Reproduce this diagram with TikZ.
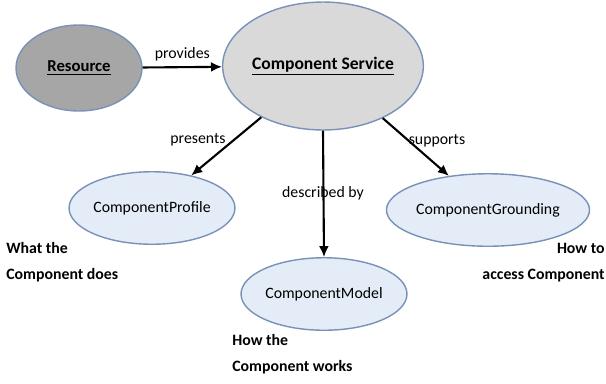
\documentclass[tikz,border=0pt]{standalone}
\usepackage{fontspec}
\setmainfont{Carlito}
\usepackage{tikz}
\usetikzlibrary{arrows.meta, positioning, shapes.geometric}

\definecolor{rimblue}{RGB}{120,146,184}
\definecolor{resgray}{RGB}{166,166,166}
\definecolor{svcgray}{RGB}{217,217,217}
\definecolor{partblue}{RGB}{228,236,247}

\begin{document}
\begin{tikzpicture}[
  x=0.02cm, y=-0.02cm,
  bubble/.style = {
    ellipse,
    draw=rimblue,
    thick,
    inner sep=0pt,
    align=center
  },
  resource/.style = {
    bubble,
    fill=resgray,
    minimum width=2.52cm,
    minimum height=1.72cm,
    font=\bfseries\fontsize{9.5}{11}\selectfont
  },
  service/.style = {
    bubble,
    fill=svcgray,
    minimum width=3.68cm,
    minimum height=2.56cm,
    font=\bfseries\fontsize{10}{12}\selectfont
  },
  part/.style = {
    bubble,
    fill=partblue,
    minimum width=3.2cm,
    minimum height=1.45cm,
    font=\fontsize{9}{11}\selectfont
  },
  note/.style = {
    inner sep=0pt,
    font=\bfseries\fontsize{9}{14.7}\selectfont
  },
  label/.style = {
    inner sep=1pt,
    font=\fontsize{9}{11}\selectfont
  },
  arrow/.style = {line width=1.2pt, -{Latex[width=2mm, length=2.2mm]}}
]
\useasboundingbox (0,0) rectangle (606,383);

% ======================================================
% TOP ROW
% ======================================================

\node[resource] (resource) at (79,68) {\underline{Resource}};
\node[service] (service) at (323,66) {\underline{Component Service}};

\draw[arrow]
  (resource) -- node[label, above=2pt] {provides} (service);

% ======================================================
% PARTS OF THE SERVICE
% ======================================================

\node[part] (profile) at (152,208) {ComponentProfile};
\node[part] (model) at (324,294) {ComponentModel};
\node[part] (grounding) at (488,210) {ComponentGrounding};

\draw[arrow] (service) -- (profile);
\draw[arrow] (service.south) -- (model.north);
\draw[arrow] (service) -- (grounding);

\node[label] (presents) at (198,140) {presents};
\node[label] (describedby) at (323,193) {described by};
\node[label] (supports) at (437,141) {supports};

% notes
\node[note, anchor=north west, align=left] (whatnote) at (6,242) {What the\\Component does};
\node[note, anchor=north west, align=left] (hownote) at (232,334) {How the\\Component works};
\node[note, anchor=north east, align=right] (accessnote) at (605,243) {How to\\access Component};

\end{tikzpicture}
\end{document}
